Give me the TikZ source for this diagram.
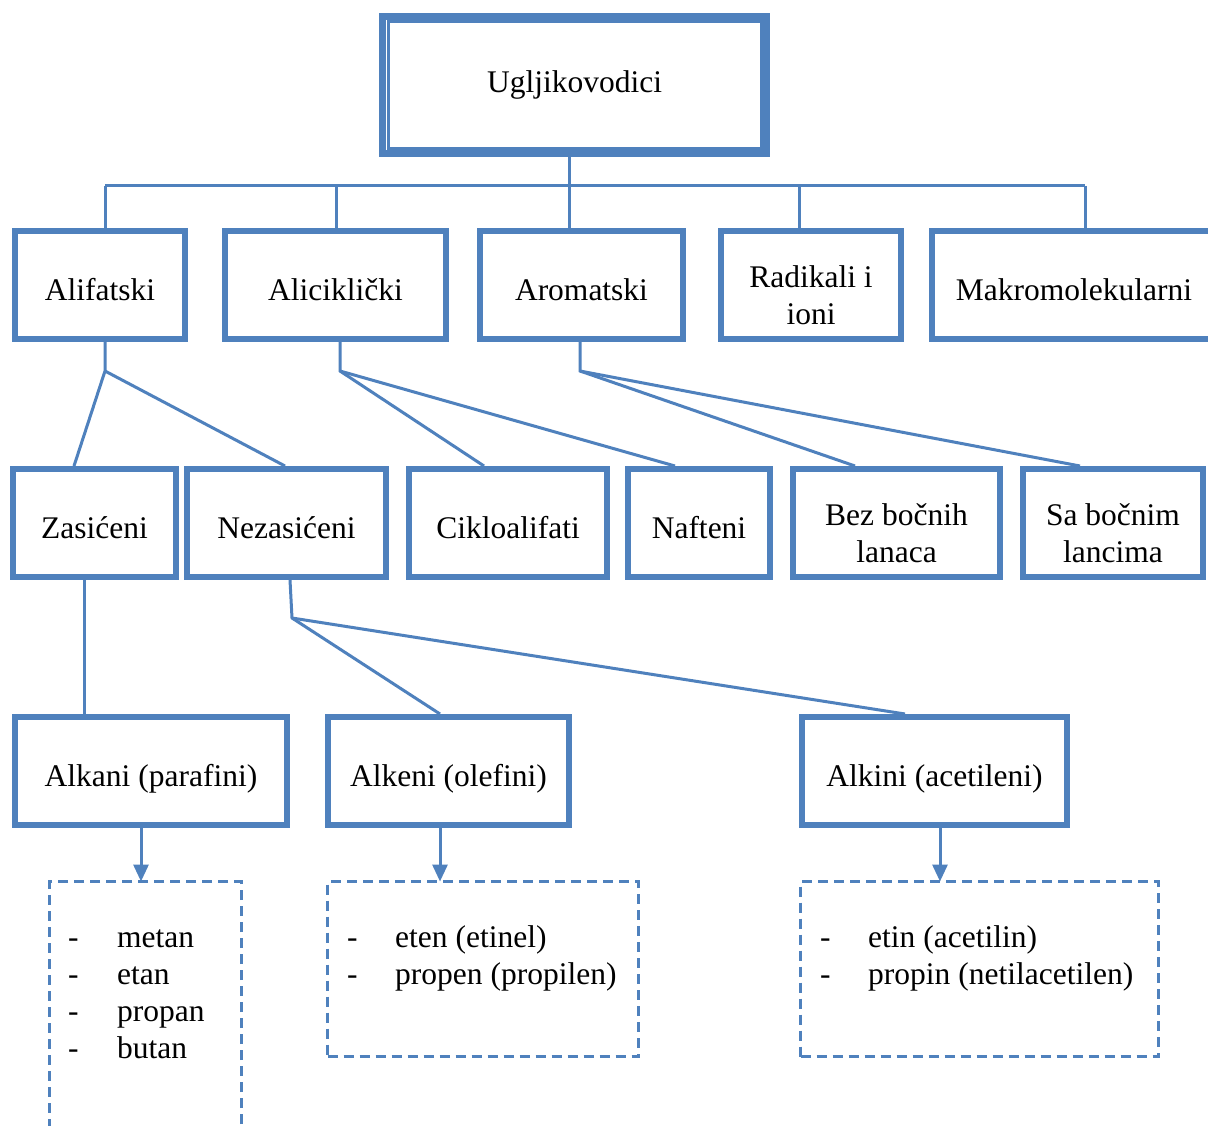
\documentclass[tikz,border=0pt]{standalone}
\usepackage{fontspec}
\setmainfont{Liberation Serif}
\usetikzlibrary{arrows.meta}
\definecolor{ob}{HTML}{4F81BD}
\begin{document}
\begin{tikzpicture}[x=1pt,y=-1pt,
  box/.style={draw=ob,line width=6pt,inner sep=0pt,minimum height=108pt,align=center,
    font=\fontsize{31.5}{37}\selectfont},
  one/.style={text height=30pt,text depth=0pt},
  two/.style={text height=78.5pt,text depth=0pt},
  dbox/.style={draw=ob,line width=3pt,dash pattern=on 10pt off 6pt,inner sep=0pt},
  conn/.style={draw=ob,line width=3pt},
  arr/.style={draw=ob,line width=3pt,-{Triangle[length=17pt,width=15pt]}},
  itm/.style={anchor=base west,inner sep=0pt,font=\fontsize{31.5}{37}\selectfont}]
\useasboundingbox (0,0) rectangle (1208,1126);
\clip (0,0) rectangle (1208,1126);
\fill[white] (0,0) rectangle (1208,1126);

% top
\node[box,line width=7pt,minimum width=384pt,minimum height=137pt] (top) at (574.5,85) {Ugljikovodici};
\draw[ob,line width=2.5pt] ([shift={(9.5,8.5)}]top.north west) rectangle ([shift={(-8.5,-8.5)}]top.south east);

% row 1
\node[box,one,minimum width=170pt] (alif) at (100,285) {Alifatski};
\node[box,one,minimum width=221pt] (alic) at (335.5,285) {Aliciklički};
\node[box,one,minimum width=203pt] (arom) at (581.5,285) {Aromatski};
\node[box,two,minimum width=180pt] (radi) at (811,285) {Radikali i\\ioni};
\node[box,one,minimum width=284pt] (makro) at (1074,285) {Makromolekularni};

% row 2
\node[box,one,minimum width=163pt] (zas) at (94.5,523) {Zasićeni};
\node[box,one,minimum width=199pt] (nez) at (286.5,523) {Nezasićeni};
\node[box,one,minimum width=198pt] (cik) at (508,523) {Cikloalifati};
\node[box,one,minimum width=142pt] (naf) at (699,523) {Nafteni};
\node[box,two,minimum width=207pt] (bez) at (896.5,523) {Bez bočnih\\lanaca};
\node[box,two,minimum width=180pt] (sa) at (1113,523) {Sa bočnim\\lancima};

% row 3
\node[box,one,minimum width=272pt] (alk) at (151,771) {Alkani (parafini)};
\node[box,one,minimum width=241pt] (alke) at (448.5,771) {Alkeni (olefini)};
\node[box,one,minimum width=265pt] (alki) at (934.5,771) {Alkini (acetileni)};

% dashed boxes
\node[dbox,minimum width=192pt,minimum height=258.5pt] (d1) at (145.5,1010.75) {};
\node[dbox,minimum width=311pt,minimum height=175pt] (d2) at (483,969) {};
\node[dbox,minimum width=358pt,minimum height=175pt] (d3) at (979.5,969) {};

% list items
\foreach \t [count=\i] in {metan,etan,propan,butan}{
  \node[itm] (p\i) at (68,910+37*\i) {-};
  \node[itm] (q\i) at (117,910+37*\i) {\t};
}
\node[itm] (r1) at (347,947) {-};
\node[itm] (s1) at (395,947) {eten (etinel)};
\node[itm] (r2) at (347,984) {-};
\node[itm] (s2) at (395,984) {propen (propilen)};
\node[itm] (u1) at (820,947) {-};
\node[itm] (v1) at (868,947) {etin (acetilin)};
\node[itm] (u2) at (820,984) {-};
\node[itm] (v2) at (868,984) {propin (netilacetilen)};

% bus
\coordinate (b1) at (105,186);
\coordinate (b2) at (336,186);
\coordinate (b3) at (569,186);
\coordinate (b4) at (799,186);
\coordinate (b5) at (1085,186);
\draw[conn] (b1) -- (b5);
\draw[conn] (top.south -| b3) -- (arom.north -| b3);
\draw[conn] (b1) -- (alif.north -| b1);
\draw[conn] (b2) -- (alic.north -| b2);
\draw[conn] (b4) -- (radi.north -| b4);
\draw[conn] (b5) -- (makro.north -| b5);

% row1 -> row2
\coordinate (j1) at (105,371);
\coordinate (j2) at (340,371);
\coordinate (j3) at (580,371);
\draw[conn] (alif.south -| j1) -- (j1) -- ([xshift=-20.5pt]zas.north);
\draw[conn] (j1) -- ([xshift=-1.5pt]nez.north);
\draw[conn] (alic.south -| j2) -- (j2) -- ([xshift=-24pt]cik.north);
\draw[conn] (j2) -- ([xshift=-24pt]naf.north);
\draw[conn] (arom.south -| j3) -- (j3) -- ([xshift=-41.5pt]bez.north);
\draw[conn] (j3) -- ([xshift=-33pt]sa.north);

% row2 -> row3
\coordinate (k1) at (84,650);
\draw[conn] (zas.south -| k1) -- (alk.north -| k1);
\coordinate (j4) at (292,618);
\draw[conn] ([xshift=3.5pt]nez.south) -- (j4) -- ([xshift=-8.5pt]alke.north);
\draw[conn] (j4) -- ([xshift=-29.5pt]alki.north);

% arrows
\coordinate (a1) at (141,850);
\coordinate (a2) at (440,850);
\coordinate (a3) at (940,850);
\draw[arr] (alk.south -| a1) -- ([yshift=-1.5pt]d1.north -| a1);
\draw[arr] (alke.south -| a2) -- ([yshift=-1.5pt]d2.north -| a2);
\draw[arr] (alki.south -| a3) -- ([yshift=-1.5pt]d3.north -| a3);
\end{tikzpicture}
\end{document}
